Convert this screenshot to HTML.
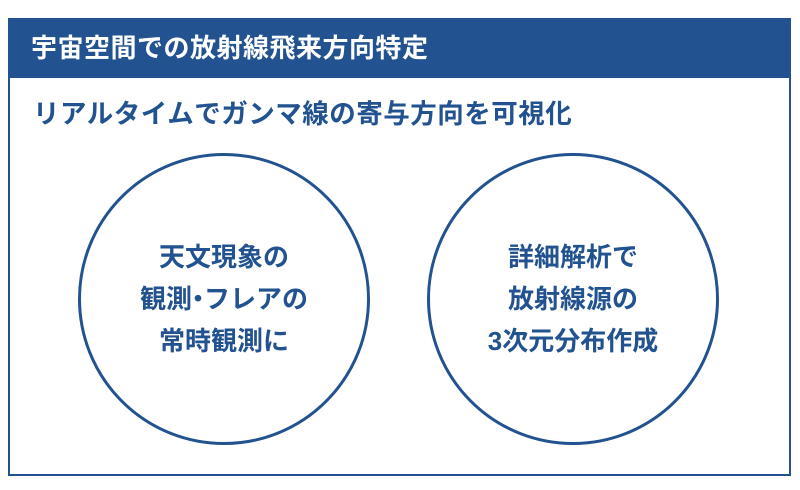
<!DOCTYPE html>
<html><head><meta charset="utf-8"><style>
body{margin:0;width:800px;height:490px;background:#fff;position:relative;overflow:hidden;font-family:"Liberation Sans","Noto Sans CJK JP",sans-serif;font-weight:bold}
.box{position:absolute;left:8px;top:18px;width:779px;height:454px;border:2px solid #22528f}
.hdr{position:absolute;left:8px;top:18px;width:783px;height:60px;background:#22528f;color:#fff;font-size:26px;line-height:60px;padding-left:23px;box-sizing:border-box;letter-spacing:0.5px}
.sub{position:absolute;left:33px;top:92px;font-size:26.5px;color:#22528f;letter-spacing:0.5px}
.c{position:absolute;width:292px;height:292px;border:3px solid #22528f;border-radius:50%;box-sizing:border-box;top:153px;display:flex;align-items:center;justify-content:center;text-align:center;color:#22528f;font-size:26px;line-height:42px}
.d{display:inline-block;margin:0 -7px}
</style></head><body>
<div class="box"></div>
<div class="hdr">宇宙空間での放射線飛来方向特定</div>
<div class="sub">リアルタイムでガンマ線の寄与方向を可視化</div>
<div class="c" style="left:78px"><div>天文現象の<br>観測<span class="d">・</span>フレアの<br>常時観測に</div></div>
<div class="c" style="left:427px"><div>詳細解析で<br>放射線源の<br>3次元分布作成</div></div>
</body></html>
